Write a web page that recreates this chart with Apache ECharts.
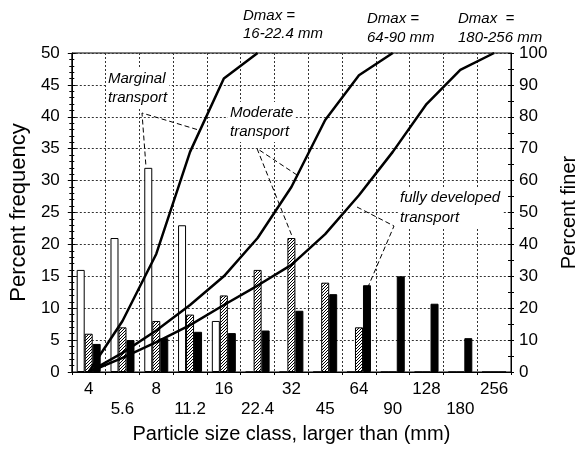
<!DOCTYPE html>
<html><head><meta charset="utf-8">
<script src="https://cdn.jsdelivr.net/npm/echarts@6/dist/echarts.min.js"></script>
<style>html,body{margin:0;padding:0;background:#fff}#c{width:587px;height:449px}</style>
</head><body><div id="c"></div>
<script>
// ---- data ----
const categories = ['4','5.6','8','11.2','16','22.4','32','45','64','90','128','180','256'];
const marginalFreq = [16,21,32,23,8,0,0,0,0,0,0,0,0];
const moderateFreq = [6,7,8,9,12,16,21,14,7,0,0,0,0];
const fullyFreq    = [4.4,5.0,5.3,6.3,6.1,6.5,9.6,12.2,13.6,15,10.7,5.3,0];
const marginalFiner = [0,16,37,69,92,100];
const moderateFiner = [0,6,13,21,30,42,58,79,93,100];
const fullyFiner    = [0,4.4,9.4,14.7,21.0,27.1,33.6,43.2,55.4,69.0,84.0,94.7,100];

const FONT = "'Liberation Sans', Arial, sans-serif";
const gridDot = {color:'#333', width:1, type:[2,2]};

// hatch pattern
const pc = document.createElement('canvas'); pc.width = 3; pc.height = 3;
const g = pc.getContext('2d');
g.fillStyle = '#fff'; g.fillRect(0,0,3,3);
g.strokeStyle = '#000'; g.lineWidth = 1;
g.beginPath(); g.moveTo(0,3); g.lineTo(3,0); g.moveTo(-1,1); g.lineTo(1,-1); g.moveTo(2,4); g.lineTo(4,2); g.stroke();

const chart = echarts.init(document.getElementById('c'));
const axisBlack = {color:'#000', width:1};
const tickLabel = {color:'#000', fontSize:17, fontFamily:FONT};
const nameStyle = {color:'#000', fontSize:20, fontFamily:FONT};

const option = {
  animation:false,
  grid:{left:67, right:69, top:53, bottom:73, show:true, borderColor:'#000', borderWidth:1},
  xAxis:{
    type:'category', data:categories, boundaryGap:true,
    axisLine:{lineStyle:axisBlack},
    axisTick:{show:true, interval:0, length:3, lineStyle:axisBlack},
    splitLine:{show:true, interval:0, lineStyle:gridDot},
    axisLabel:Object.assign({interval:0, margin:7, lineHeight:20,
      formatter:(v,i)=> i%2===0 ? v : '\n'+v}, tickLabel),
    name:'Particle size class, larger than (mm)', nameLocation:'middle', nameGap:52,
    nameTextStyle:nameStyle
  },
  yAxis:[
    {type:'value', min:0, max:50, interval:5, position:'left',
     axisLine:{show:true, lineStyle:axisBlack},
     axisTick:{show:true, length:4, lineStyle:axisBlack},
     minorTick:{show:true, splitNumber:5, length:2.5, lineStyle:axisBlack},
     splitLine:{show:true, lineStyle:gridDot},
     axisLabel:Object.assign({margin:12}, tickLabel),
     name:'Percent frequency', nameLocation:'middle', nameGap:36,
     nameTextStyle:Object.assign({}, nameStyle, {fontSize:22})},
    {type:'value', min:0, max:100, interval:10, position:'right',
     axisLine:{show:true, lineStyle:axisBlack},
     axisTick:{show:true, length:3, lineStyle:axisBlack},
     minorTick:{show:true, splitNumber:2, length:3, lineStyle:axisBlack},
     splitLine:{show:false},
     axisLabel:Object.assign({margin:8}, tickLabel),
     name:'Percent finer', nameLocation:'middle', nameGap:48, nameTextStyle:nameStyle},
    {type:'value', min:0, max:50, interval:5, position:'left',
     axisLine:{show:false}, axisLabel:{show:false}, splitLine:{show:false},
     axisTick:{show:true, inside:true, length:4, lineStyle:axisBlack},
     minorTick:{show:true, splitNumber:5, length:2.5, lineStyle:axisBlack}},
    {type:'value', min:0, max:100, interval:10, position:'right',
     axisLine:{show:false}, axisLabel:{show:false}, splitLine:{show:false},
     axisTick:{show:true, inside:true, length:3, lineStyle:axisBlack},
     minorTick:{show:true, splitNumber:2, length:3, lineStyle:axisBlack}}
  ],
  series:[
    {type:'bar', name:'Marginal', data:marginalFreq, barWidth:8, barGap:'0%',
     itemStyle:{color:'#fff', borderColor:'#000', borderWidth:1}},
    {type:'bar', name:'Moderate', data:moderateFreq, barWidth:8, barGap:'0%',
     itemStyle:{color:{image:pc, repeat:'repeat'}, borderColor:'#000', borderWidth:1}},
    {type:'bar', name:'Fully', data:fullyFreq, barWidth:8, barGap:'0%',
     itemStyle:{color:'#000', borderColor:'#000', borderWidth:1}},
    {type:'line', yAxisIndex:1, data:marginalFiner, symbol:'none', z:5,
     lineStyle:{color:'#000', width:2.5}},
    {type:'line', yAxisIndex:1, data:moderateFiner, symbol:'none', z:5,
     lineStyle:{color:'#000', width:2.5}},
    {type:'line', yAxisIndex:1, data:fullyFiner, symbol:'none', z:5,
     lineStyle:{color:'#000', width:2.5}}
  ],
  graphic:[]
};

const annFont = "italic 15px 'Liberation Sans', Arial, sans-serif";
function ann(text, x, y, lh, bg){
  return {type:'text', x:x, y:y, z:100,
    style:{text:text, font:annFont, fill:'#000', lineHeight:lh,
      backgroundColor: bg ? '#fff' : null, padding: bg ? [1,2] : 0}};
}
function dash(points){
  return {type:'polyline', z:99, shape:{points:points},
    style:{stroke:'#000', lineWidth:1, lineDash:[5,3], fill:null}};
}
option.graphic = [
  dash([[197,129.5],[142,113],[146,167]]),
  dash([[297,175],[257,148.5],[292,236]]),
  dash([[357,207],[394,226],[368,287]]),
  ann('Marginal\ntransport', 106, 68, 19, true),
  ann('Moderate\ntransport', 228, 102, 19, true),
  ann('fully developed\ntransport', 398, 187, 20, true),
  ann('Dmax =\n16-22.4 mm', 243, 7, 18, false),
  ann('Dmax =\n64-90 mm', 367, 9, 19, false),
  ann('Dmax  =\n180-256 mm', 458, 9, 19, false)
];
chart.setOption(option);
</script>
</body></html>
